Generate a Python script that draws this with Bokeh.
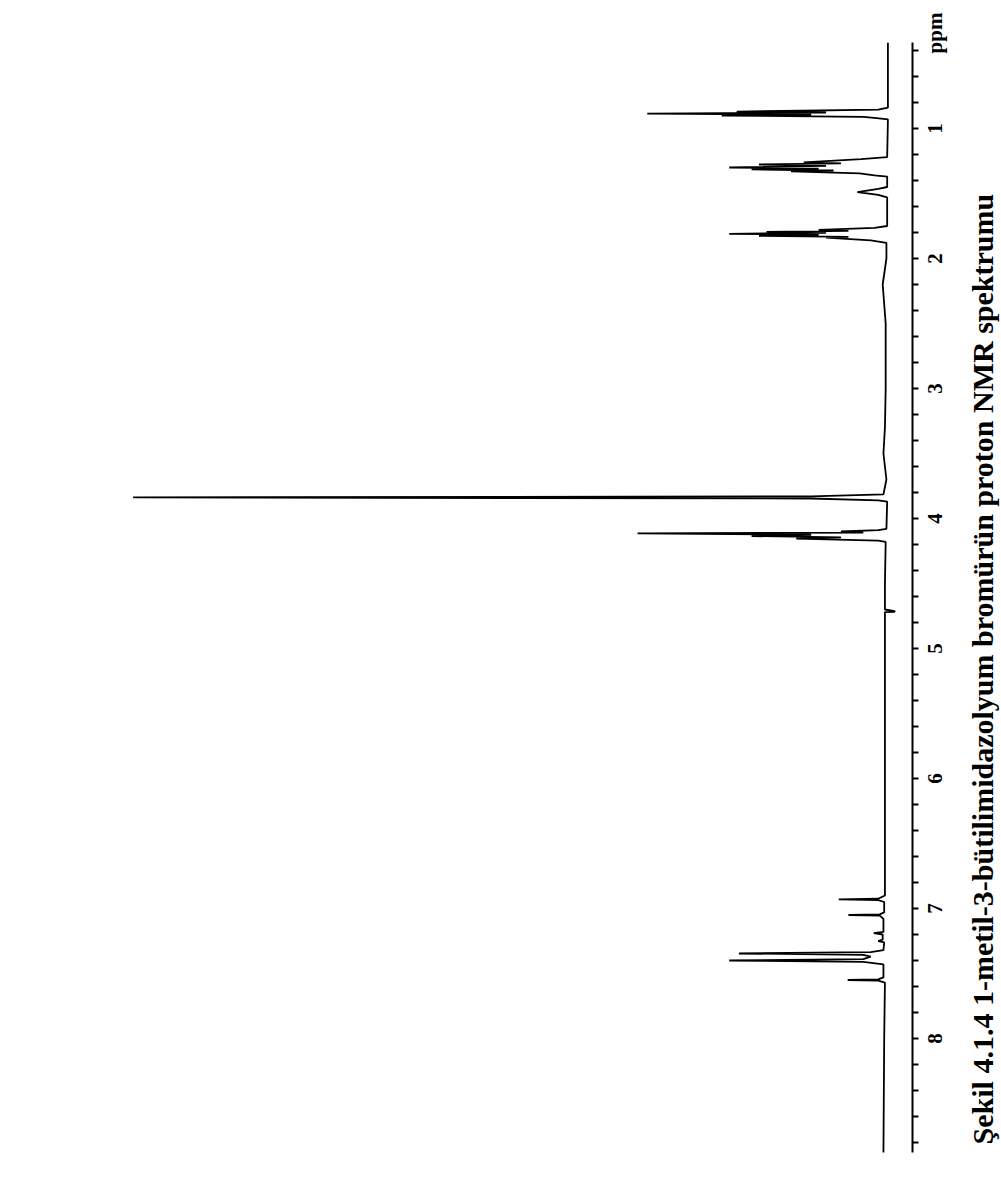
import math
from bokeh.plotting import figure
from bokeh.models import Range1d, FixedTicker
from bokeh.core.properties import value
from bokeh.embed import file_html
from bokeh.resources import INLINE

# Spectrum trace vertices (chemical shift in ppm, relative intensity)
ppm = [0.34, 0.84, 0.855, 0.87, 0.877, 0.885, 0.893, 0.90, 0.91, 0.92, 0.93,
       1.22, 1.235, 1.26, 1.268, 1.277, 1.288, 1.30, 1.308, 1.315, 1.323, 1.33, 1.345, 1.36, 1.37,
       1.45, 1.465, 1.49, 1.51, 1.53,
       1.75, 1.765, 1.78, 1.788, 1.795, 1.803, 1.81, 1.818, 1.825, 1.833, 1.84, 1.86, 1.88,
       2.0, 2.2, 2.5, 3.0, 3.3, 3.5, 3.7,
       3.815, 3.83, 3.838, 3.846, 3.86, 3.87,
       4.08, 4.09, 4.10, 4.108, 4.115, 4.125, 4.135, 4.145, 4.155, 4.17, 4.18,
       4.5, 4.70, 4.712, 4.718, 4.72, 5.5, 6.5,
       6.90, 6.925, 6.93, 6.935, 6.95,
       7.03, 7.045, 7.05, 7.055, 7.08,
       7.18, 7.19, 7.20, 7.24, 7.25, 7.26,
       7.32, 7.335, 7.346, 7.356, 7.37, 7.39, 7.40, 7.41, 7.43,
       7.53, 7.545, 7.55, 7.555, 7.57, 8.0, 8.877]
intensity = [-0.3, -0.3, 1.0, 20.0, 8.0, 32.0, 10.0, 22.0, 3.0, 1.2, -0.3,
             -0.2, 3.3, 11.0, 6.0, 17.0, 8.0, 21.0, 9.0, 18.0, 7.0, 12.7, 3.5, 1.5, -0.2,
             -0.2, 1.0, 3.8, 1.0, -0.2,
             -0.2, 1.5, 9.0, 5.0, 16.0, 8.0, 21.0, 9.0, 17.0, 5.0, 8.0, 2.0, -0.1,
             -0.1, 0.4, 0.0, 0.0, 0.1, 0.3, -0.1,
             0.3, 10.0, 101.0, 10.0, 1.0, -0.2,
             -0.1, 1.0, 6.0, 3.0, 33.3, 10.0, 18.0, 6.0, 12.0, 1.0, 0.0,
             0.1, 0.1, -1.2, -1.2, 0.1, 0.1, 0.1,
             0.1, 1.0, 6.3, 1.0, 0.2,
             0.2, 0.8, 5.0, 0.8, 0.3,
             0.3, 1.6, 0.4, 0.4, 1.0, 0.2,
             0.3, 2.0, 19.7, 3.0, 2.0, 3.0, 21.0, 3.0, 0.3,
             0.3, 1.0, 5.1, 1.0, 0.1, 0.2, 0.3]

# axis: extent and tick marks (ppm), every 0.2 ppm drawn alike
axis_extent = (0.338, 8.877)
tick_marks = [0.4, 0.6, 0.8, 1.0, 1.2, 1.4, 1.6, 1.8, 2.0, 2.2, 2.4, 2.6, 2.8, 3.0,
              3.2, 3.4, 3.6, 3.8, 4.0, 4.2, 4.4, 4.6, 4.8, 5.0, 5.2, 5.4, 5.6, 5.8, 6.0,
              6.2, 6.4, 6.6, 6.8, 7.0, 7.2, 7.4, 7.6, 7.8, 8.0, 8.2, 8.4, 8.6, 8.8]
# tick label texts and their positions along the ppm axis
label_texts = ["ppm", "1", "2", "3", "4", "5", "6", "7", "8"]
label_at = [0.265, 1, 2, 3, 4, 5, 6, 7, 8]

title_text = "Şekil 4.1.4  1-metil-3-bütilimidazolyum bromürün proton NMR spektrumu"
title_at = 5.13

SERIF = "Liberation Serif"

# layout constants (intensity units across, ppm down)
AXIS_X = -3.6
LABEL_X = -6.68
TITLE_X = -12.99

p = figure(width=1000, height=1172,
           x_range=Range1d(118.8, -15.41), y_range=Range1d(9.0308, 0.01538),
           output_backend="svg", toolbar_location=None,
           x_axis_location=None, y_axis_location="left",
           min_border_left=0, min_border_top=0, min_border_bottom=0, min_border_right=0)
p.grid.visible = False
p.outline_line_color = None
p.background_fill_color = "white"
p.border_fill_color = "white"

p.line(intensity, ppm, line_color="black", line_width=1.8)

# the ppm axis line with its tick marks pointing to the right
ax = p.yaxis[0]
ax.fixed_location = AXIS_X
ax.bounds = axis_extent
ax.ticker = FixedTicker(ticks=[], minor_ticks=tick_marks)
ax.axis_line_width = 2
ax.axis_line_color = "black"
ax.major_tick_in = 0
ax.major_tick_out = 0
ax.minor_tick_in = 6
ax.minor_tick_out = 0
ax.minor_tick_line_width = 2
ax.major_label_standoff = 0

# tick numbers and unit
p.text(x=[LABEL_X] * len(label_at), y=label_at, text=label_texts, angle=math.pi / 2,
       text_align="center", text_baseline="middle",
       text_font=value(SERIF), text_font_style="bold", text_font_size="21px",
       text_color="black")

# caption
p.text(x=[TITLE_X], y=[title_at], text=[title_text], angle=math.pi / 2,
       text_align="center", text_baseline="middle",
       text_font=value(SERIF), text_font_style="bold", text_font_size="30px",
       text_color="black")

open("out.html", "w").write(file_html(p, INLINE))
